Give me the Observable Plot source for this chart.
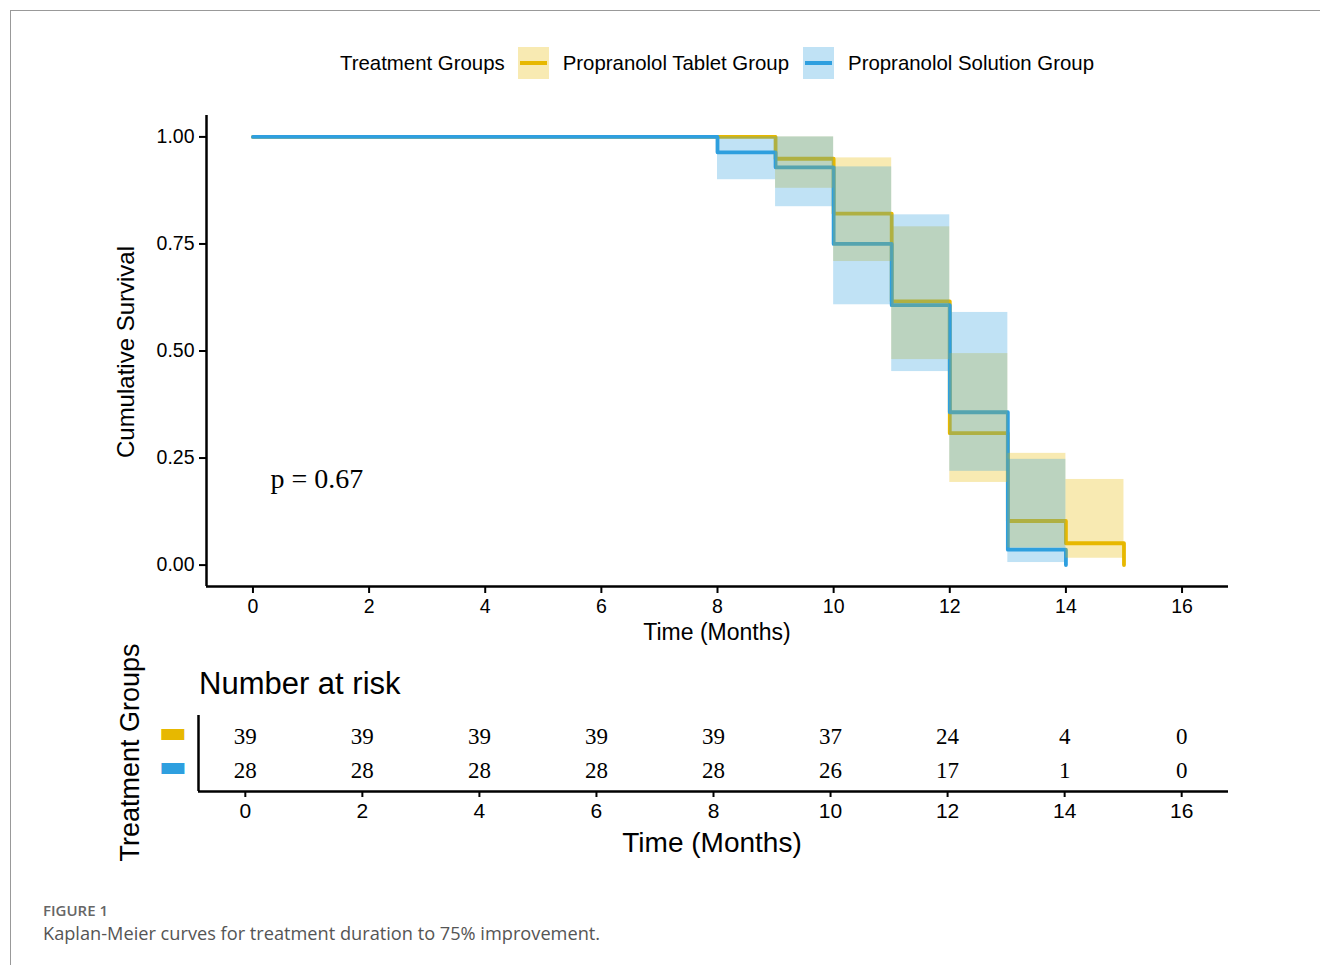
<!DOCTYPE html>
<html><head><meta charset="utf-8">
<script src="https://cdn.jsdelivr.net/npm/d3@7"></script>
<script src="https://cdn.jsdelivr.net/npm/@observablehq/plot@0.6"></script>
<style>
body{margin:0;background:#fff;width:1320px;height:965px;position:relative;overflow:hidden;font-family:"Liberation Sans",Arial,sans-serif;color:#000;}
.abs{position:absolute;white-space:nowrap;}
.c{line-height:1;}
#main svg, #risk svg{font-family:"Liberation Sans",Arial,sans-serif !important;}
</style></head><body>
<div id="main" class="abs" style="left:0;top:0"></div>
<div id="risk" class="abs" style="left:0;top:640px"></div>

<div class="abs" style="left:10px;top:10px;width:1310px;height:1px;background:#999"></div>
<div class="abs" style="left:10px;top:10px;width:1px;height:955px;background:#999"></div>

<div id="legend" class="abs" style="left:340px;top:47px;height:32px;display:flex;align-items:center;font-size:20.4px;"></div>

<div class="abs c" style="left:517px;top:621px;width:400px;text-align:center;font-size:23px;">Time (Months)</div>
<div class="abs c" style="left:-74px;top:340px;width:400px;text-align:center;font-size:24px;transform:rotate(-90deg);">Cumulative Survival</div>

<div class="abs c" style="left:199px;top:668px;font-size:31px;">Number at risk</div>
<div class="abs c" style="left:512px;top:829px;width:400px;text-align:center;font-size:28px;">Time (Months)</div>
<div class="abs c" style="left:-70px;top:739px;width:400px;text-align:center;font-size:27px;transform:rotate(-90deg);">Treatment Groups</div>

<div class="abs c" style="left:43px;top:903px;font-family:'Open Sans',sans-serif;font-weight:600;font-size:15px;color:#666;">FIGURE 1</div>
<div class="abs c" style="left:43px;top:924px;font-family:'Open Sans',sans-serif;font-size:18.2px;color:#555;">Kaplan-Meier curves for treatment duration to 75% improvement.</div>

<script>
// ---- data ----
const groups = ["Propranolol Tablet Group", "Propranolol Solution Group"];
const groupColors = ["#E7B800", "#2E9FDF"];
const legendTitle = "Treatment Groups";

const tabletTime  = [0, 9, 10, 11, 12, 13, 14, 15];
const tabletSurv  = [1, 0.949, 0.821, 0.616, 0.308, 0.103, 0.051, 0];
const tabletLower = [1, 0.88, 0.709, 0.48, 0.193, 0.04, 0.016, null];
const tabletUpper = [1, 1.0, 0.951, 0.79, 0.494, 0.261, 0.20, null];

const solutionTime  = [0, 8, 9, 10, 11, 12, 13, 14];
const solutionSurv  = [1, 0.964, 0.929, 0.75, 0.607, 0.357, 0.036, 0];
const solutionLower = [1, 0.90, 0.837, 0.608, 0.452, 0.219, 0.006, null];
const solutionUpper = [1, 1.0, 1.0, 0.93, 0.818, 0.59, 0.247, null];

const riskTimes    = [0, 2, 4, 6, 8, 10, 12, 14, 16];
const tabletRisk   = [39, 39, 39, 39, 39, 37, 24, 4, 0];
const solutionRisk = [28, 28, 28, 28, 28, 26, 17, 1, 0];

const xTicks = [0, 2, 4, 6, 8, 10, 12, 14, 16];
const yTicks = [0, 0.25, 0.5, 0.75, 1];
const pValueLabel = "p = 0.67";

// ---- build tables ----
const series = [
  {group: groups[0], time: tabletTime, surv: tabletSurv, lo: tabletLower, hi: tabletUpper},
  {group: groups[1], time: solutionTime, surv: solutionSurv, lo: solutionLower, hi: solutionUpper}
];
const curve = [], ci = [];
for (const s of series) {
  s.time.forEach((t, i) => curve.push({group: s.group, time: t, surv: s.surv[i]}));
  for (let i = 0; i < s.time.length - 1; i++) {
    if (s.lo[i] != null && s.hi[i] > s.lo[i])
      ci.push({group: s.group, t1: s.time[i], t2: s.time[i + 1], lo: s.lo[i], hi: s.hi[i]});
  }
}
const risk = [];
riskTimes.forEach((t, i) => {
  risk.push({group: groups[0], row: 2, time: t, n: tabletRisk[i]});
  risk.push({group: groups[1], row: 1, time: t, n: solutionRisk[i]});
});

const xDomain = [-0.8, 16.8];
const yDomain = [-0.05, 1.05];
const colorScale = {domain: groups, range: groupColors};
const sans = "'Liberation Sans', Arial, sans-serif";
const serif = "'Liberation Serif', 'Times New Roman', serif";

const main = Plot.plot({
  width: 1320, height: 660,
  marginLeft: 206, marginRight: 92, marginTop: 115, marginBottom: 74,
  x: {domain: xDomain},
  y: {domain: yDomain},
  color: colorScale,
  style: {fontFamily: sans, fontSize: "19.5px", background: "transparent", overflow: "visible", color: "#000"},
  marks: [
    Plot.line(curve, {x: "time", y: "surv", z: "group", stroke: "group", curve: "step-after", strokeWidth: 3.8}),
    Plot.rect(ci, {x1: "t1", x2: "t2", y1: "lo", y2: "hi", fill: "group", fillOpacity: 0.3}),
    Plot.ruleX([xDomain[0]], {stroke: "#000", strokeWidth: 2.5}),
    Plot.ruleY([yDomain[0]], {stroke: "#000", strokeWidth: 2.5}),
    Plot.axisY({ticks: yTicks, tickFormat: d3.format(".2f"), tickSize: 7, tickPadding: 5, strokeWidth: 2, label: null, fill: "#000", fontFamily: sans}),
    Plot.axisX({ticks: xTicks, tickFormat: d3.format("d"), tickSize: 7, tickPadding: 6, strokeWidth: 2, label: null, fill: "#000", fontFamily: sans}),
    Plot.text([pValueLabel], {frameAnchor: "bottom-left", dx: 64, dy: -99, text: d => d, textAnchor: "start", fontFamily: serif, fontSize: 28, fill: "#000"})
  ]
});
document.getElementById("main").appendChild(main);

const riskPlot = Plot.plot({
  width: 1320, height: 240,
  marginLeft: 198, marginRight: 92, marginTop: 75, marginBottom: 89,
  x: {domain: xDomain},
  y: {domain: [0.38, 2.62], axis: null},
  color: colorScale,
  style: {fontFamily: sans, fontSize: "21px", background: "transparent", overflow: "visible", color: "#000"},
  marks: [
    Plot.text(risk, {x: "time", y: "row", text: d => String(d.n), fontFamily: serif, fontSize: 23, fill: "#000"}),
    Plot.text(risk.filter(d => d.time === riskTimes[0]), {y: "row", frameAnchor: "left", dx: -40, dy: -4, text: () => "▬", textAnchor: "start", fill: "group", fontSize: 30, fontFamily: "DejaVu Sans"}),
    Plot.ruleX([xDomain[0]], {stroke: "#000", strokeWidth: 2.5}),
    Plot.ruleY([0.38], {stroke: "#000", strokeWidth: 2.5}),
    Plot.axisX({ticks: xTicks, tickFormat: d3.format("d"), tickSize: 6, tickPadding: 6, strokeWidth: 2, label: null, fill: "#000", fontFamily: sans})
  ]
});
document.getElementById("risk").appendChild(riskPlot);

// ---- legend ----
const leg = document.getElementById("legend");
const title = document.createElement("span");
title.textContent = legendTitle;
title.style.marginRight = "13px";
leg.appendChild(title);
groups.forEach((g, i) => {
  const key = document.createElement("span");
  key.style.cssText = `display:inline-block;width:31px;height:32px;position:relative;margin-right:14px;background:${d3.color(groupColors[i]).copy({opacity:0.3})}`;
  const ln = document.createElement("span");
  ln.style.cssText = `position:absolute;left:2px;right:2px;top:14px;height:4px;background:${groupColors[i]}`;
  key.appendChild(ln);
  leg.appendChild(key);
  const lab = document.createElement("span");
  lab.textContent = g;
  lab.style.marginRight = "14px";
  leg.appendChild(lab);
});
</script>
</body></html>
